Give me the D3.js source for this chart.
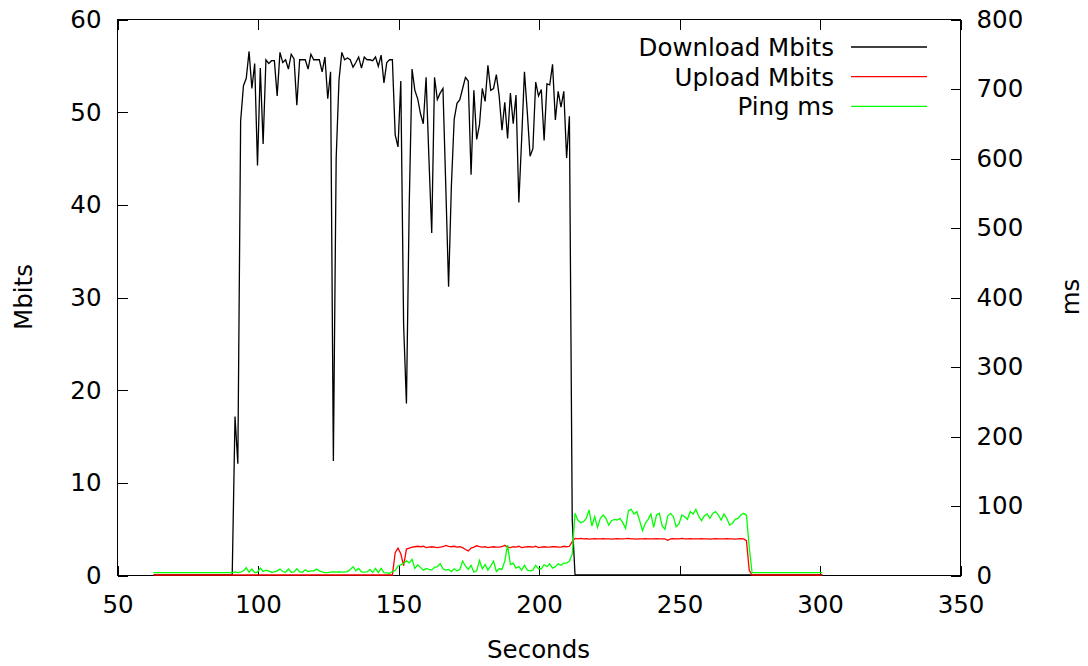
<!DOCTYPE html>
<html>
<head>
<meta charset="utf-8">
<script src="https://cdn.jsdelivr.net/npm/d3@7"></script>
<style>
    body { margin: 0; background: #ffffff; }
    text { font-family: 'DejaVu Sans', sans-serif; fill: #000; }
    .axis text { font-size: 24.5px; }
    .axis line { stroke: #000; shape-rendering: crispEdges; }
    .axisLabel { font-size: 24.5px; }
    .border { fill: none; stroke: #000; stroke-width: 1; shape-rendering: crispEdges; }
    .line { fill: none; stroke-width: 1.3; stroke-linejoin: miter; }
</style>
</head>
<body>
<div id="graph"></div>
<script>
// one sample per second, first sample at this time
var startSecond = 63;

var downloadMbits = [
    0, 0, 0, 0, 0, 0, 0, 0, 0, 0,
    0, 0, 0, 0, 0, 0, 0, 0, 0, 0,
    0, 0, 0, 0, 0, 0, 0, 0, 0,
    17.1, 12.0, 49.0, 52.8, 53.6, 56.5, 52.5, 55.2, 44.2, 54.7,
    46.5, 55.6, 55.2, 55.5, 55.5, 51.7, 56.4, 55.3, 55.6, 54.6,
    56.2, 55.7, 50.7, 55.6, 55.6, 55.6, 54.6, 56.2, 55.6, 55.6,
    55.6, 54.3, 55.9, 51.4, 54.3, 12.3, 45.0, 53.4, 56.4, 55.6,
    55.8, 55.6, 54.8, 55.3, 55.9, 54.7, 55.9, 55.6, 55.6, 55.5,
    55.9, 54.9, 56.1, 53.1, 55.3, 55.6, 55.6, 47.5, 46.2, 53.3,
    27.0, 18.5, 40.0, 54.6, 52.3, 51.4, 49.8, 48.7, 53.7, 45.0,
    36.9, 53.7, 51.3, 52.0, 52.5, 42.0, 31.1, 42.0, 49.2, 50.9,
    51.3, 52.5, 53.7, 53.3, 43.2, 52.3, 47.0, 48.6, 52.5, 51.1,
    55.0, 52.3, 52.5, 54.0, 51.7, 48.0, 51.0, 47.1, 52.0, 48.7,
    51.8, 40.2, 47.0, 54.3, 50.0, 45.2, 46.0, 53.2, 51.7, 52.4,
    46.9, 53.0, 52.9, 55.1, 49.1, 52.2, 50.5, 52.2, 45.0, 49.5,
    6.0,
    0, 0, 0, 0, 0, 0, 0, 0, 0, 0,
    0, 0, 0, 0, 0, 0, 0, 0, 0, 0,
    0, 0, 0, 0, 0, 0, 0, 0, 0, 0,
    0, 0, 0, 0, 0, 0, 0, 0, 0, 0,
    0, 0, 0, 0, 0, 0, 0, 0, 0, 0,
    0, 0, 0, 0, 0, 0, 0, 0, 0, 0,
    0, 0, 0, 0, 0, 0, 0, 0, 0, 0,
    0, 0, 0, 0, 0, 0, 0, 0, 0, 0,
    0, 0, 0, 0, 0, 0, 0, 0, 0
];

var uploadMbits = [
    0, 0, 0, 0, 0, 0, 0, 0, 0, 0,
    0, 0, 0, 0, 0, 0, 0, 0, 0, 0,
    0, 0, 0, 0, 0, 0, 0, 0, 0, 0,
    0, 0, 0, 0, 0, 0, 0, 0, 0, 0,
    0, 0, 0, 0, 0, 0, 0, 0, 0, 0,
    0, 0, 0, 0, 0, 0, 0, 0, 0, 0,
    0, 0, 0, 0, 0, 0, 0, 0, 0, 0,
    0, 0, 0, 0, 0, 0, 0, 0, 0, 0,
    0, 0, 0, 0, 0, 0,
    2.4, 2.9, 2.3, 1.0, 2.8, 2.9,
    3.0, 3.05, 3.1, 3.05, 3.1, 2.95, 3.0, 3.05, 3.0, 2.95,
    3.0, 3.05, 3.2, 3.1, 3.05, 3.1, 3.0, 3.05, 2.95, 2.75,
    2.6, 2.9, 3.0, 3.15, 3.05, 3.0, 3.05, 2.95, 3.0, 3.05,
    3.0, 3.0, 3.05, 3.2, 3.0, 2.95, 3.05, 3.0, 3.1, 2.95,
    3.0, 3.05, 3.05, 3.0, 3.1, 2.95, 3.0, 3.05, 3.0, 3.0,
    3.05, 3.05, 3.0, 3.0, 3.1, 3.05, 3.1,
    3.6, 3.95,
    3.9, 3.95, 3.9, 3.92, 3.88, 3.9, 3.92, 3.9, 3.9, 3.92,
    3.9, 3.9, 3.88, 3.9, 3.92, 3.9, 3.9, 3.92, 3.95, 3.9,
    3.9, 3.88, 3.9, 3.9, 3.92, 3.9, 3.9, 3.9, 3.92, 3.9,
    3.9, 3.9, 3.75, 3.9, 3.92, 3.9, 3.9, 3.95, 3.9, 3.9,
    3.92, 3.9, 3.9, 3.9, 3.92, 3.9, 3.9, 3.88, 3.9, 3.92,
    3.9, 3.9, 3.9, 3.92, 3.9, 3.9, 3.88, 3.9, 3.92,
    3.9, 3.7, 0.5,
    0, 0, 0, 0, 0, 0, 0, 0, 0, 0,
    0, 0, 0, 0, 0, 0, 0, 0, 0, 0,
    0, 0, 0, 0, 0, 0
];

var pingMs = [
    3.3, 3.3, 3.3, 3.3, 3.3, 3.3, 3.3, 3.3, 3.3, 3.3,
    3.3, 3.3, 3.3, 3.3, 3.3, 3.3, 3.3, 3.3, 3.3, 3.3,
    3.3, 3.3, 3.3, 3.3, 3.3, 3.3, 3.3, 3.3, 3.3,
    4.5, 3.5, 4.0, 6.0, 10.5, 4.0, 8.5, 3.5, 4.0, 10.0,
    5.0, 7.0, 5.5, 4.0, 4.5, 6.0, 8.5, 5.0, 4.0, 8.5,
    4.0, 4.5, 9.0, 4.5, 4.0, 7.5, 5.0, 6.0, 6.0, 8.5,
    6.0, 4.5, 3.5, 3.5, 4.0, 4.5, 4.0, 4.5, 4.0, 4.5,
    5.0, 8.0, 12.0, 6.0, 9.5, 4.5, 4.0, 4.5,
    8.0, 3.5, 9.5, 3.5, 9.5, 3.5, 3.0, 2.5,
    5.0, 6.5, 13.0, 14.5, 17.0, 20.5, 17.5, 22.5, 9.5, 14.5,
    11.0, 7.0, 9.5, 8.0, 7.0, 11.0, 12.0, 16.5,
    9, 7, 8, 5, 9, 6, 8, 20, 13, 8,
    14, 4, 6, 21, 9, 15, 7, 13, 20, 5,
    9, 8, 20, 43, 15, 17, 10, 12, 7, 14,
    7, 6, 7, 14, 9, 9, 15, 12, 16, 10,
    12, 16, 14, 17, 17, 20,
    30,
    88.7, 79.1, 75.3, 76.7, 81.5, 93.5, 70.5, 83.9, 68.6, 81.5,
    86.3, 81.5, 71.9, 78.2, 80.1, 79.1, 81.5, 75.3, 67.2, 92.6,
    94.5, 87.8, 91.1, 78.2, 63.8, 74.3, 80.1, 87.8, 68.6, 86.3,
    88.7, 70.5, 65.7, 84.9, 88.7, 83.9, 69.5, 73.4, 86.3, 83.9,
    80.1, 91.1, 87.8, 94.5, 84.9, 78.2, 84.9, 87.8, 81.5, 88.7,
    91.1, 86.3, 79.1, 87.8, 81.5, 71.9, 74.3, 80.1, 81.5, 86.3,
    88.7,
    86, 40,
    3.3, 3.3, 3.3, 3.3, 3.3, 3.3, 3.3, 3.3, 3.3, 3.3,
    3.3, 3.3, 3.3, 3.3, 3.3, 3.3, 3.3, 3.3, 3.3, 3.3,
    3.3, 3.3, 3.3, 3.3, 3.3, 3.3
];

var xTicks  = [50, 100, 150, 200, 250, 300, 350];
var yTicks  = [0, 10, 20, 30, 40, 50, 60];
var y2Ticks = [0, 100, 200, 300, 400, 500, 600, 700, 800];

var legendLabels  = ['Download Mbits', 'Upload Mbits', 'Ping ms'];
var legendColours = ['#000000', '#ff0000', '#00ff00'];


function D3SVGApp ()
{
    var margin = { top: 19, right: 128, bottom: 91, left: 117 };
    var width  = 1088 - margin.left - margin.right;
    var height = 666  - margin.top  - margin.bottom;

    var xScale  = d3.scaleLinear ().domain ([50, 350]).range ([0, width]);
    var yScale  = d3.scaleLinear ().domain ([0, 60]).range ([height, 0]);
    var y2Scale = d3.scaleLinear ().domain ([0, 800]).range ([height, 0]);

    var svg = d3.select ('div#graph')
                .append ('svg')
                .attr ('width', width + margin.left + margin.right)
                .attr ('height', height + margin.top + margin.bottom)
                .append ('g')
                .attr ('transform', 'translate(' + margin.left + ',' + margin.top + ')');

    // plot border
    svg.append ('rect')
       .attr ('class', 'border')
       .attr ('x', 0.5)
       .attr ('y', 0.5)
       .attr ('width', width)
       .attr ('height', height);

    // axes, ticks pointing inwards like gnuplot
    var xAxis   = d3.axisBottom (xScale).tickValues (xTicks).tickSize (-10).tickPadding (20);
    var xAxisT  = d3.axisTop (xScale).tickValues (xTicks).tickSize (-10).tickFormat ('');
    var yAxis   = d3.axisLeft (yScale).tickValues (yTicks).tickSize (-10).tickPadding (16);
    var y2Axis  = d3.axisRight (y2Scale).tickValues (y2Ticks).tickSize (-10).tickPadding (16);

    svg.append ('g').attr ('class', 'x axis')
       .attr ('transform', 'translate(0.5,' + (height + 0.5) + ')')
       .call (xAxis);
    svg.append ('g').attr ('class', 'x axis')
       .attr ('transform', 'translate(0.5,0.5)')
       .call (xAxisT);
    svg.append ('g').attr ('class', 'y axis')
       .attr ('transform', 'translate(0.5,0.5)')
       .call (yAxis);
    svg.append ('g').attr ('class', 'y2 axis')
       .attr ('transform', 'translate(' + (width + 0.5) + ',0.5)')
       .call (y2Axis);

    svg.selectAll ('.axis .domain').remove ();
    svg.selectAll ('.axis text').attr ('font-family', null).attr ('font-size', null);

    // data lines
    var lineLeft = d3.line ()
                     .x (function (d, i) { return xScale (startSecond + i); })
                     .y (function (d)    { return yScale (d); });

    var lineRight = d3.line ()
                      .x (function (d, i) { return xScale (startSecond + i); })
                      .y (function (d)    { return y2Scale (d); });

    svg.append ('path').datum (downloadMbits)
       .attr ('class', 'line').attr ('stroke', legendColours[0]).attr ('d', lineLeft);
    svg.append ('path').datum (uploadMbits)
       .attr ('class', 'line').attr ('stroke', legendColours[1]).attr ('d', lineLeft);
    svg.append ('path').datum (pingMs)
       .attr ('class', 'line').attr ('stroke', legendColours[2]).attr ('d', lineRight);

    //
    // Axis labels...
    //
    svg.append ('text')
       .attr ('class', 'axisLabel')
       .style ('text-anchor', 'middle')
       .attr ('x', width / 2)
       .attr ('y', height + 83)
       .text ('Seconds');

    svg.append ('text')
       .attr ('class', 'axisLabel')
       .style ('text-anchor', 'middle')
       .attr ('transform', 'rotate(-90)')
       .attr ('x', -height / 2)
       .attr ('y', -85)
       .text ('Mbits');

    svg.append ('text')
       .attr ('class', 'axisLabel')
       .style ('text-anchor', 'middle')
       .attr ('transform', 'rotate(-90)')
       .attr ('x', -height / 2)
       .attr ('y', width + 119)
       .text ('ms');

    // legend, top right inside the plot
    for (var i = 0; i < legendLabels.length; i++)
    {
        var ly = 28 + 29.7 * i;

        svg.append ('text')
           .attr ('class', 'axisLabel')
           .style ('text-anchor', 'end')
           .attr ('x', 717)
           .attr ('y', ly + 9)
           .text (legendLabels[i]);

        svg.append ('line')
           .attr ('x1', 734)
           .attr ('x2', 810)
           .attr ('y1', ly)
           .attr ('y2', ly)
           .attr ('stroke', legendColours[i])
           .attr ('stroke-width', 1.3);
    }
}

D3SVGApp ();
</script>
</body>
</html>
